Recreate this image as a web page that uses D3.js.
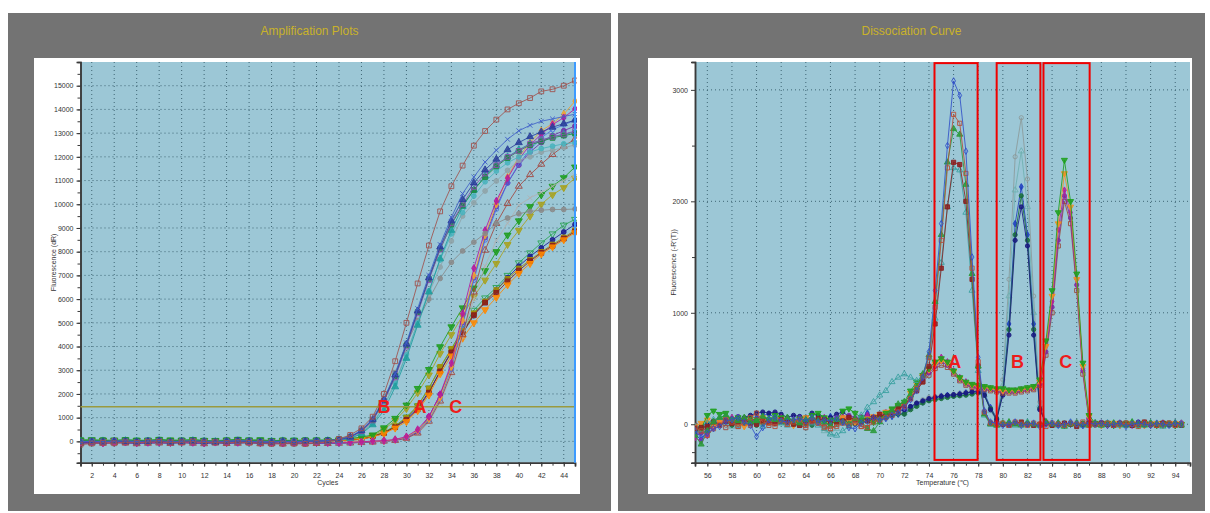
<!DOCTYPE html>
<html>
<head>
<meta charset="utf-8">
<script src="https://cdn.jsdelivr.net/npm/d3@7"></script>
<style>
  body { margin: 0; background: #fff; }
  svg { display: block; font-family: "Liberation Sans", Arial, sans-serif; }
</style>
</head>
<body>
<svg id="chart" width="1210" height="513"></svg>
<script>
// ---------- sampling grids ----------
var cycles = d3.range(1, 46);          // 45 cycles
var temps = d3.range(55, 95, 0.5);     // 80 melt steps

// ---------- amplification data (dR per cycle) ----------
// B group (earliest)
var ampB1 = [-140,-90,-60,-80,-40,-60,-30,-20,-50,-40,-10,-50,-40,-70,-30,-60,-80,-110,-90,-100,-110,-70,-20,100,270,550,1040,2000,3380,5000,6660,8260,9700,10760,11630,12470,13090,13570,14000,14260,14480,14760,14850,15000,15220];
var ampB2 = [-30,10,-20,0,20,-10,10,30,-20,0,20,-10,-30,0,30,10,-20,-30,0,-20,10,20,30,90,200,480,950,1800,2850,4150,5600,7000,8300,9450,10450,11150,11780,12280,12740,13100,13330,13500,13600,13700,13800];
var ampB3 = [-50,-20,-30,10,-10,-30,0,20,-40,-10,0,-20,-40,-10,20,-10,-30,-40,-10,-30,0,10,20,70,180,450,920,1750,2800,4100,5500,6900,8200,9300,10200,10900,11450,11900,12300,12600,12850,13050,13250,13400,13550];
var ampB4 = [-20,0,-10,20,0,-20,10,10,-30,0,10,-10,-20,0,10,0,-20,-20,0,-10,10,0,20,60,170,430,880,1700,2700,4000,5400,6800,8100,9200,10000,10730,11300,11650,12000,12250,12550,12700,12850,12950,13090];
var ampB5 = [40,30,50,20,60,30,40,70,20,40,50,30,10,40,70,40,30,20,40,30,50,40,60,90,190,440,900,1720,2750,4050,5450,6850,8100,9150,9950,10600,11150,11600,11950,12250,12500,12650,12800,12900,12980];
var ampB6 = [10,-10,20,0,30,10,-10,20,0,10,30,0,-10,20,10,0,-20,10,20,0,10,20,20,40,120,320,700,1300,2300,3500,4900,6300,7700,8900,9900,10600,11200,11650,12000,12300,12550,12700,12850,12950,13050];
var ampB7 = [0,20,-10,10,30,0,20,10,-10,20,10,0,20,10,0,20,-10,0,10,20,0,10,30,50,140,350,760,1450,2450,3650,5000,6350,7650,8750,9650,10350,10950,11400,11750,12000,12200,12350,12450,12550,12600];
var ampB8 = [20,10,30,0,20,10,30,20,0,10,20,30,10,0,20,10,30,0,10,20,10,20,40,80,190,400,850,1700,2900,4100,5100,6000,6870,7550,8030,8400,8770,9190,9420,9600,9700,9750,9780,9780,9800];
var ampB9 = [10,-10,0,20,0,-10,10,0,-20,10,0,-10,0,10,20,0,-10,10,0,-10,10,0,20,60,150,350,760,1500,2500,3700,5000,6250,7350,8450,9500,10060,10560,10980,11430,11850,12000,12200,12280,12390,12500];
// A group (middle)
var ampA1 = [60,70,50,40,70,50,40,80,60,50,70,40,30,60,80,60,70,30,50,40,50,60,40,60,120,180,270,570,970,1530,2230,3030,3990,4830,5630,6470,7200,8000,8700,9300,9900,10400,10760,11120,11570];
var ampA2 = [30,20,40,10,30,20,0,30,20,10,40,20,0,30,20,10,30,0,20,10,30,20,30,50,100,160,240,500,880,1380,2050,2800,3700,4500,5300,6100,6800,7500,8300,8900,9500,10000,10400,10700,11100];
var ampA3 = [50,40,30,60,40,30,50,40,20,40,60,30,40,20,50,40,30,40,20,50,30,40,30,50,70,100,220,380,650,1020,1500,2250,3100,3900,4750,5530,6050,6490,7000,7530,7950,8370,8750,9120,9360];
var ampA4 = [-10,10,0,-20,10,0,20,-10,0,10,-10,0,20,10,-10,0,10,-20,0,10,0,-10,10,40,60,90,200,360,620,950,1400,2100,2950,3800,4600,5350,5900,6380,6900,7390,7800,8160,8500,8830,9150];
var ampA5 = [20,0,10,30,10,20,0,10,30,20,0,10,20,30,10,0,20,10,30,0,20,10,20,50,70,100,230,380,640,1000,1490,2230,3140,3900,4650,5400,5900,6380,6850,7290,7650,7990,8300,8600,8900];
var ampA6 = [-20,0,-10,10,-20,0,-10,10,0,-20,-10,0,10,-10,0,-20,10,-10,0,-20,-10,0,10,40,60,90,210,350,600,900,1350,2050,2950,3750,4550,5320,5850,6260,6750,7200,7600,7950,8250,8550,8850];
var ampA7 = [0,10,-10,20,0,-10,10,0,20,-10,0,10,-10,0,20,0,-10,10,-20,0,10,-10,10,30,50,80,190,320,560,830,1290,1950,2850,3600,4350,5000,5550,6070,6600,7080,7500,7900,8200,8500,8800];
// C group (latest)
var ampC1 = [-60,-40,-80,-50,-30,-70,-50,-40,-60,-30,-50,-70,-40,-60,-50,-30,-70,-60,-80,-50,-70,-60,-60,-50,-40,-20,10,30,80,200,500,1040,1980,3300,5390,7300,8900,10140,11100,11900,12500,12950,13360,13650,14030];
var ampC2 = [-40,-20,-50,-30,-10,-40,-30,-20,-50,-10,-30,-40,-20,-50,-30,-10,-40,-50,-60,-30,-50,-40,-50,-40,-30,-20,0,20,70,180,450,950,1850,3150,5100,7000,8700,10000,11150,12000,12600,13100,13400,13800,14350];
var ampC3 = [-70,-50,-60,-40,-50,-80,-60,-50,-70,-40,-60,-80,-50,-70,-60,-40,-80,-70,-90,-60,-80,-70,-70,-60,-50,-30,0,20,60,170,430,900,1800,3050,4900,6800,8500,9800,10900,11700,12300,12800,13150,13350,13540];
var ampC4 = [-80,-60,-70,-50,-60,-90,-70,-60,-80,-50,-70,-90,-60,-80,-70,-50,-90,-80,-100,-70,-90,-80,-80,-70,-60,-40,-20,10,50,150,400,1040,1980,3140,5000,6900,8600,9900,10900,11650,12200,12600,12900,13100,13300];
var ampC5 = [-90,-70,-80,-60,-70,-100,-80,-70,-90,-60,-80,-100,-70,-90,-80,-60,-100,-90,-110,-80,-100,-90,-90,-80,-70,-50,-30,10,40,130,350,850,1700,2900,4500,6300,8060,9190,10030,10760,11250,11690,12100,12450,12740];
var ampC6 = [-30,-10,-40,-20,0,-30,-20,-10,-40,0,-20,-30,-10,-40,-20,0,-30,-40,-50,-20,-40,-30,-40,-30,-20,-10,0,10,40,120,330,800,1600,2800,4400,6000,7400,8480,9200,9960,10270,10500,10760,11000,11200];

var threshold = 1460;

// ---------- dissociation data (-R'(T) per melt step) ----------
var melA1 = [-60,-120,-80,-40,-20,30,40,60,20,-10,-110,-30,40,60,30,20,40,50,30,60,20,40,30,50,20,-30,-40,10,30,60,40,50,80,100,
  150,220,300,420,650,1200,1800,2500,3080,2950,2450,1500,600,120,20,10,-10,0,20,-10,0,10,-20,0,10,-10,0,20,0,-10,10,0,
  10,-10,0,10,-20,0,10,0,-10,10,0,-10,10,0];
var melA2 = [-30,-60,-100,-40,-10,40,20,-20,10,60,100,20,10,-20,30,0,20,40,-10,30,10,-30,-40,-20,10,-10,30,-20,-30,20,40,60,80,110,
  160,230,320,430,600,1050,1650,2300,2780,2700,2250,1400,560,110,10,0,10,-10,20,0,-10,10,0,-20,10,0,-10,10,0,20,-10,0,
  0,10,-10,0,10,0,-20,10,0,-10,0,10,-10,0];
var melA3 = [-100,-180,-60,20,60,80,40,30,60,20,30,70,50,40,20,60,30,10,40,60,30,20,-10,40,20,0,50,30,-40,-60,20,70,120,180,
  200,260,330,450,620,1100,1700,2350,2650,2600,2150,1350,520,90,0,-10,10,20,0,-10,10,0,-10,20,0,10,-20,0,10,0,-10,10,
  -10,0,10,0,-10,20,0,-10,10,0,-10,0,10,-10];
var melA4 = [-40,-30,-20,20,-10,30,10,20,40,10,0,30,20,10,40,20,0,-10,20,30,50,40,10,20,30,60,40,20,30,60,90,70,100,140,
  170,230,300,380,520,900,1400,1950,2350,2330,2000,1300,520,100,10,10,0,-10,10,20,0,-10,0,10,-10,0,10,0,-20,0,10,0,
  10,0,-10,10,0,-10,0,20,0,-10,10,0,0,-10];
var melA5 = [-20,-50,10,40,60,50,20,-10,30,20,10,-20,40,30,10,-10,20,0,30,10,-10,-40,-90,-100,-60,-20,30,80,150,200,260,300,380,420,
  450,420,390,430,600,950,1450,1950,2300,2280,1900,1200,480,80,0,-10,0,10,-10,0,20,0,-10,10,0,-10,0,10,0,-10,0,10,
  -10,10,0,-10,0,10,-10,0,10,0,-20,0,10,0];
var melB1 = [-80,-50,-20,10,30,20,40,60,30,10,20,40,30,60,20,10,30,50,20,40,10,-20,-10,20,40,30,10,40,20,50,60,80,90,110,
  110,150,190,220,240,250,260,260,270,280,290,300,300,270,130,40,400,1300,2400,2750,2200,1150,200,30,0,10,-10,0,20,-10,0,10,
  0,-10,10,0,-10,0,10,20,0,-10,0,10,0,-10];
var melB2 = [-40,-70,-30,0,40,10,-20,50,40,20,30,10,40,0,20,30,60,20,10,30,40,-60,-80,-40,10,40,20,0,30,10,50,70,80,100,
  100,140,170,200,220,230,240,250,255,260,270,280,290,260,120,30,350,1150,2100,2450,1950,1000,170,20,10,0,-10,10,0,-10,10,0,
  10,0,-10,0,10,-10,0,10,-10,0,10,0,-10,10];
var melB3 = [-90,-140,-60,-20,10,40,30,0,20,10,60,80,90,60,40,50,20,30,10,60,40,30,70,40,20,50,30,60,100,40,30,60,70,90,
  100,150,180,200,220,240,250,260,260,270,280,290,300,280,150,60,300,900,1800,2130,1700,900,150,20,0,10,-10,0,10,-10,0,10,
  -10,10,0,-10,0,10,0,-10,10,0,-10,0,10,0];
var melB4 = [-50,-20,10,30,0,20,-10,10,40,20,-10,30,20,50,30,10,20,40,10,-10,30,50,20,10,40,20,0,30,50,20,40,60,80,90,
  90,130,160,190,210,220,230,240,250,255,260,270,280,260,140,50,280,850,1700,2050,1650,850,140,10,-10,0,10,0,-10,10,0,-10,
  0,10,-10,0,10,0,-10,10,0,-10,10,0,-10,0];
var melB5 = [-70,-40,0,20,40,60,20,40,60,80,100,110,100,110,90,60,80,70,60,100,80,40,60,90,110,70,40,60,80,50,70,90,110,120,
  130,160,190,210,230,240,250,260,265,270,280,290,290,260,130,40,260,800,1650,1950,1600,800,130,10,0,-10,0,10,0,-10,10,0,
  10,-10,0,10,-10,0,20,0,-10,0,10,-10,0,10];
var melC1 = [-60,-40,80,120,90,100,40,60,20,50,30,10,40,80,60,30,10,50,20,80,100,60,40,30,120,140,100,60,40,20,60,100,140,170,
  200,300,380,440,500,560,590,560,480,420,380,360,350,340,330,320,320,310,310,320,330,340,400,750,1200,1900,2370,2000,1350,550,80,10,
  0,10,-10,0,10,0,-10,10,0,-10,10,0,-10,0];
var melC2 = [-20,10,40,-10,20,50,30,10,-20,0,30,60,20,40,50,20,-10,30,60,40,20,50,10,30,60,40,20,10,50,70,90,110,130,160,
  180,280,360,430,490,540,570,550,470,410,370,350,340,330,320,310,300,300,300,310,320,330,380,700,1150,1800,2250,1950,1300,520,70,0,
  -10,0,10,-10,0,10,0,-10,0,10,-10,0,10,0];
var melC3 = [-120,-150,-100,-30,10,40,60,20,50,30,10,40,20,30,60,20,40,10,30,50,20,60,30,40,70,50,30,60,80,40,70,100,120,150,
  150,250,350,420,480,550,600,560,480,420,380,350,340,330,320,320,310,300,300,310,320,330,380,700,1100,1750,2100,1900,1300,500,60,10,
  10,-10,0,10,0,-10,10,0,-10,0,10,0,-10,10];
var melC4 = [-100,-80,-50,0,30,20,50,70,30,40,20,60,40,20,30,50,30,60,40,20,30,50,40,60,30,80,60,40,50,70,90,110,130,160,
  160,240,320,400,460,520,560,530,460,400,360,340,330,320,310,300,290,290,290,300,310,320,360,650,1050,1650,2050,1850,1250,480,50,0,
  0,-10,10,0,-10,0,10,-10,0,10,0,-10,0,10];
var melC5 = [-10,-60,-40,-20,30,-30,10,-20,20,-10,40,20,-10,10,30,0,20,-10,-30,20,10,-20,-40,0,30,50,10,-20,-30,60,40,80,110,140,
  170,230,310,380,440,500,530,510,450,390,350,330,320,310,300,290,280,280,280,290,300,310,350,620,1000,1600,2000,1800,1200,450,40,0,
  10,0,-10,0,10,-10,0,10,0,-10,0,10,-10,0];

// melt-peak boxes (temperature ranges) and labels
var boxes = [[74.45, 77.95], [79.5, 83.05], [83.3, 87.05]];
var boxTop = 3240, boxBottom = -320;
var meltLabels = [['A', 76.1, 560], ['B', 81.2, 560], ['C', 85.1, 560]];
var ampLabels = [['B', 28.0, threshold], ['A', 31.2, threshold], ['C', 34.4, threshold]];

// tick labels
var ampYTicks = d3.range(0, 16000, 1000);
var ampXTicks = d3.range(2, 46, 2);
var melYTicks = [0, 1000, 2000, 3000];
var melXTicks = d3.range(56, 96, 2);

// ---------- styles ----------
var ampStyle = [
  [ampA3, '#2aa455', 'tdo'], [ampA4, '#1c1c8f', 'ci'], [ampA5, '#a68f00', 'sq'], [ampA6, '#8b1c1c', 'sq'],
  [ampA7, '#ff8800', 'td'], [ampA2, '#a8a21e', 'td'], [ampA1, '#1e9e1e', 'td'],
  [ampC6, '#b0b0b0', 'x'], [ampC5, '#a2463f', 'tro'], [ampC4, '#6f2da8', 'ci'], [ampC3, '#4a6fe0', 'cio'],
  [ampC2, '#f0a030', 'di'], [ampC1, '#b5179e', 'di'],
  [ampB8, '#8a8a8a', 'ci'], [ampB9, '#8fa3a8', 'ci'], [ampB7, '#4ab3bd', 'ci'], [ampB6, '#1f9e9e', 'tr'],
  [ampB5, '#1f8a43', 'sq'], [ampB4, '#8a4fb0', 'sqo'], [ampB3, '#2a3f9a', 'tr'], [ampB2, '#3f5fc8', 'x'],
  [ampB1, '#a0524e', 'sqo']
];
var melStyle = [
  [melB1, '#8c9a9a', 'cio'], [melB2, '#6fb0b0', 'tro'], [melB3, '#2040c0', 'di'], [melB4, '#1a6e3a', 'ci'], [melB5, '#1a1a80', 'ci'],
  [melC5, '#9a4a3a', 'sqo'], [melC4, '#7a2aa0', 'ci'], [melC3, '#b0209e', 'di'], [melC2, '#f09020', 'td'], [melC1, '#1ea01e', 'td'],
  [melA5, '#3aa0a0', 'tro'], [melA4, '#8b2020', 'sq'], [melA3, '#2a9a3a', 'tr'], [melA2, '#b5503a', 'sqo'], [melA1, '#3050c8', 'dio']
];

var svg = d3.select('#chart');

// marker path for a shape code
function markerPath(shape, r) {
  if (shape === 'x') {
    return 'M' + (-r) + ',' + (-r) + 'L' + r + ',' + r + 'M' + (-r) + ',' + r + 'L' + r + ',' + (-r);
  }
  var type = d3.symbolSquare;
  if (shape.indexOf('ci') === 0) type = d3.symbolCircle;
  if (shape.indexOf('t') === 0) type = d3.symbolTriangle;
  if (shape.indexOf('di') === 0) type = d3.symbolDiamond;
  var area = (2 * r) * (2 * r);
  if (type === d3.symbolCircle) area = Math.PI * r * r;
  if (type === d3.symbolTriangle) area = 0.9 * area;
  if (type === d3.symbolDiamond) area = 0.7 * area;
  return d3.symbol().type(type).size(area)();
}

// one framed chart panel
function panel(cfg) {
  var g = svg.append('g');
  g.append('rect').attr('x', cfg.frame[0]).attr('y', cfg.frame[1])
    .attr('width', cfg.frame[2]).attr('height', cfg.frame[3]).attr('fill', '#737373');
  g.append('rect').attr('x', cfg.inner[0]).attr('y', cfg.inner[1])
    .attr('width', cfg.inner[2]).attr('height', cfg.inner[3]).attr('fill', '#fff');
  g.append('text').attr('x', cfg.frame[0] + cfg.frame[2] / 2).attr('y', 35)
    .attr('text-anchor', 'middle').attr('font-size', 12).attr('fill', '#c9b22a').text(cfg.title);

  var p = cfg.plot;
  var x = d3.scaleLinear().domain(cfg.xDomain).range([p.x0, p.x1]);
  var y = d3.scaleLinear().domain(cfg.yDomain).range([p.y1, p.y0]);

  g.append('rect').attr('x', p.x0).attr('y', p.y0).attr('width', p.x1 - p.x0).attr('height', p.y1 - p.y0)
    .attr('fill', '#9cc7d6');

  // dotted grid
  g.append('g').selectAll('line').data(cfg.xTicks).enter().append('line')
    .attr('x1', function (d) { return x(d); }).attr('x2', function (d) { return x(d); })
    .attr('y1', p.y0).attr('y2', p.y1)
    .attr('stroke', '#3f6675').attr('stroke-width', 1).attr('stroke-dasharray', '1,3');
  g.append('g').selectAll('line').data(cfg.yTicks).enter().append('line')
    .attr('y1', function (d) { return y(d); }).attr('y2', function (d) { return y(d); })
    .attr('x1', p.x0).attr('x2', p.x1)
    .attr('stroke', '#3f6675').attr('stroke-width', 1).attr('stroke-dasharray', '1,3');

  // axes
  var xAxis = g.append('g').attr('transform', 'translate(0,' + p.y1 + ')')
    .call(d3.axisBottom(x).tickValues(cfg.xTicks).tickSize(4).tickFormat(d3.format('d')));
  g.append('g').attr('transform', 'translate(0,' + p.y1 + ')')
    .call(d3.axisBottom(x).tickValues(cfg.xMinor).tickSize(3).tickFormat(''));
  g.append('g').attr('transform', 'translate(' + p.x0 + ',0)')
    .call(d3.axisLeft(y).tickValues(cfg.yTicks).tickSize(4).tickFormat(d3.format('d')));
  g.append('g').attr('transform', 'translate(' + p.x0 + ',0)')
    .call(d3.axisLeft(y).tickValues(cfg.yMinor).tickSize(3).tickFormat(''));
  g.selectAll('.domain').attr('stroke', '#3a3a3a').attr('stroke-width', 1.5);
  g.selectAll('.tick line').attr('stroke', '#3a3a3a');
  g.selectAll('.tick text').attr('font-size', 7).attr('fill', '#333')
    .attr('font-family', '"Liberation Sans", Arial, sans-serif');
  xAxis.selectAll('.tick text').attr('dy', '1.2em');

  g.append('text').attr('x', (p.x0 + p.x1) / 2).attr('y', p.y1 + 22)
    .attr('text-anchor', 'middle').attr('font-size', 7).attr('fill', '#333').text(cfg.xLabel);
  g.append('text').attr('transform', 'translate(' + cfg.yLabelX + ',' + (p.y0 + p.y1) / 2 + ') rotate(-90)')
    .attr('text-anchor', 'middle').attr('font-size', 7).attr('fill', '#333').text(cfg.yLabel);

  // series
  var clipId = 'clip' + cfg.id;
  g.append('clipPath').attr('id', clipId).append('rect')
    .attr('x', p.x0).attr('y', p.y0 - 1).attr('width', p.x1 - p.x0 + 2).attr('height', p.y1 - p.y0);
  var gs = g.append('g').attr('clip-path', 'url(#' + clipId + ')');
  var line = d3.line()
    .x(function (d, i) { return x(cfg.xs[i]); })
    .y(function (d) { return y(d); });

  cfg.series.forEach(function (s) {
    var vals = s[0], color = s[1], shape = s[2];
    var hollow = shape === 'x' || shape.slice(-1) === 'o';
    var down = shape.indexOf('td') === 0;
    gs.append('path').datum(vals).attr('d', line)
      .attr('fill', 'none').attr('stroke', color).attr('stroke-width', 1).attr('stroke-opacity', 0.85);
    gs.append('g').selectAll('path').data(vals).enter().append('path')
      .attr('transform', function (d, i) {
        return 'translate(' + x(cfg.xs[i]) + ',' + y(d) + ')' + (down ? ' rotate(180)' : '');
      })
      .attr('d', markerPath(shape, cfg.r))
      .attr('fill', hollow ? 'none' : color)
      .attr('fill-opacity', 0.85)
      .attr('stroke', color).attr('stroke-width', 0.9);
  });

  return { g: g, x: x, y: y };
}

// ---------- left: amplification ----------
var amp = panel({
  id: 'amp', title: 'Amplification Plots',
  frame: [8, 13, 603, 498], inner: [34, 58, 546, 436],
  plot: { x0: 80.5, x1: 575, y0: 62, y1: 462.7 },
  xDomain: [1, 45], yDomain: [-900, 16000],
  xTicks: ampXTicks, xMinor: cycles, yTicks: ampYTicks, yMinor: d3.range(-500, 16000, 500),
  xLabel: 'Cycles', yLabel: 'Fluorescence (dR)', yLabelX: 56,
  xs: cycles, series: ampStyle, r: 2.4
});

// threshold line
amp.g.append('line').attr('x1', amp.x(1)).attr('x2', amp.x(45))
  .attr('y1', amp.y(threshold)).attr('y2', amp.y(threshold))
  .attr('stroke', '#9a9a3e').attr('stroke-width', 1.5);
// current-cycle marker at right edge
amp.g.append('line').attr('x1', amp.x(45)).attr('x2', amp.x(45))
  .attr('y1', amp.y(16000)).attr('y2', amp.y(-900))
  .attr('stroke', '#3d9bff').attr('stroke-width', 2);

amp.g.selectAll('.lbl').data(ampLabels).enter().append('text')
  .attr('x', function (d) { return amp.x(d[1]); })
  .attr('y', function (d) { return amp.y(d[2]); })
  .attr('dy', '0.36em').attr('text-anchor', 'middle')
  .attr('font-size', 18).attr('font-weight', 'bold').attr('fill', '#ee1c1c')
  .text(function (d) { return d[0]; });

// ---------- right: dissociation ----------
var mel = panel({
  id: 'mel', title: 'Dissociation Curve',
  frame: [618, 13, 587, 498], inner: [648, 58, 544, 436],
  plot: { x0: 695, x1: 1190, y0: 62, y1: 462.7 },
  xDomain: [55, 95.2], yDomain: [-345, 3250],
  xTicks: melXTicks, xMinor: d3.range(55, 96, 1), yTicks: melYTicks, yMinor: [-250, 500, 1500, 2500],
  xLabel: 'Temperature (\u2103)', yLabel: "Fluorescence (-R'(T))", yLabelX: 676,
  xs: temps, series: melStyle, r: 2.1
});

mel.g.selectAll('.box').data(boxes).enter().append('rect')
  .attr('x', function (d) { return mel.x(d[0]); })
  .attr('y', mel.y(boxTop))
  .attr('width', function (d) { return mel.x(d[1]) - mel.x(d[0]); })
  .attr('height', mel.y(boxBottom) - mel.y(boxTop))
  .attr('fill', 'none').attr('stroke', '#f00000').attr('stroke-width', 2);

mel.g.selectAll('.lbl').data(meltLabels).enter().append('text')
  .attr('x', function (d) { return mel.x(d[1]); })
  .attr('y', function (d) { return mel.y(d[2]); })
  .attr('dy', '0.36em').attr('text-anchor', 'middle')
  .attr('font-size', 18).attr('font-weight', 'bold').attr('fill', '#ee1c1c')
  .text(function (d) { return d[0]; });
</script>
</body>
</html>
